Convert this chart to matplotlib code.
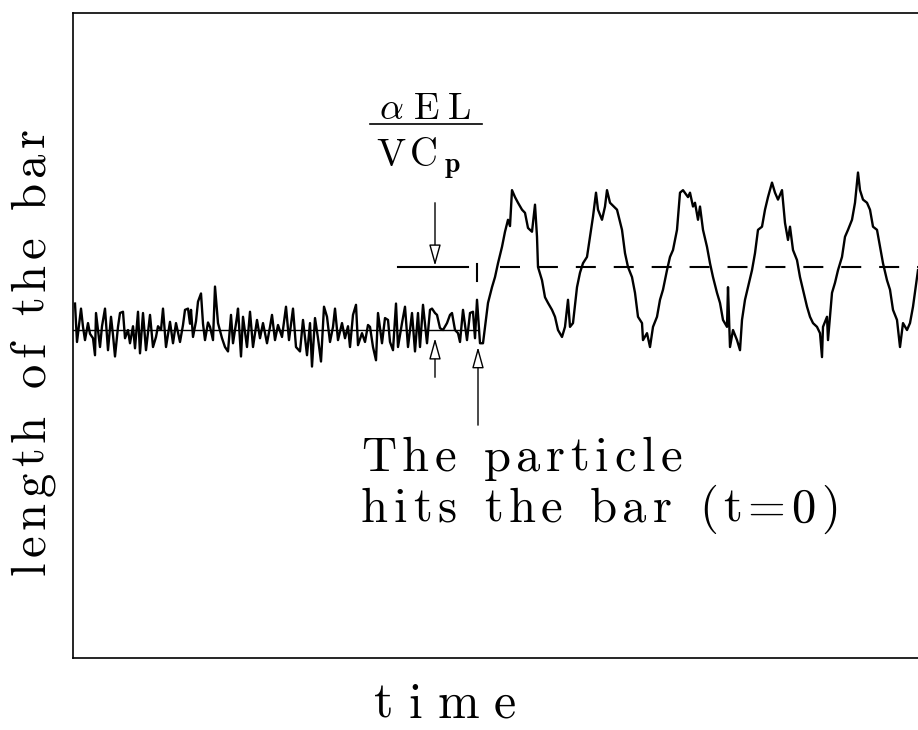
import numpy as np
import matplotlib
matplotlib.use("Agg")
import matplotlib.pyplot as plt

plt.rcParams["mathtext.fontset"] = "cm"

# ── Bar length trace (time in samples from the hit, length in % of aEL/VCp) ──
t_before = [-403, -401, -399, -397, -395, -393, -390, -388, -385, -383, -382, -378,
            -376, -373, -370, -367, -365, -363, -360, -358, -355, -353, -350, -348,
            -345, -343, -340, -338, -335, -332, -328, -325, -322, -320, -317, -315,
            -312, -308, -305, -302, -298, -295, -293, -290, -288, -287, -285, -282,
            -280, -277, -275, -273, -270, -268, -265, -263, -260, -256, -253, -250,
            -247, -245, -241, -240, -237, -235, -231, -228, -225, -221, -218, -215,
            -211, -208, -206, -203, -200, -196, -192, -189, -185, -182, -178, -175,
            -171, -168, -166, -163, -160, -157, -154, -151, -148, -145, -143, -140,
            -136, -133, -130, -128, -125, -122, -120, -116, -113, -110, -108, -105,
            -102, -100, -96, -93, -90, -88, -85, -82, -80, -76, -73, -70, -66, -63,
            -60, -58, -55, -51, -48, -46, -43, -41, -38, -35, -31, -28, -26, -23,
            -20, -18, -15, -11, -8, -5, -3, -1, 2, 5]
l_before = [42, -19, 8, 34, 5, -16, 11, -6, -13, -40, 27, -27,
            6, 34, -32, 21, -8, -42, 5, 27, 29, -13, 0, -21,
            6, -29, 29, -37, 27, -32, 24, -27, -11, 6, 0, 34,
            -27, 13, -21, 11, -19, 8, 32, 34, 10, 32, -11, 14,
            45, 58, 10, -16, 12, 5, -16, 69, 11, -13, -27, -34,
            24, -21, 21, 34, -42, 21, -27, 29, -27, 16, -13, 11,
            -21, 5, 24, -16, 8, -11, 37, -16, 34, -27, -34, 16,
            -40, 11, -58, 19, -13, -50, 37, 21, -19, 5, 34, -16,
            11, -13, 6, -27, 24, 40, -24, -5, -19, 8, 5, -27,
            -48, 27, -21, 19, 16, -19, -32, 42, -27, 11, 37, -27, 27, -34,
            27, -27, 40, -21, 32, 34, 27, 24, 3, 0, 11, 24, 27, 0,
            -5, -19, 32, -16, 27, 29, -13, 48, -21, -21]

t_after = [7, 10, 14, 17, 20, 24, 27, 30, 32, 34, 37, 40, 44, 47, 50, 54, 57, 59,
           60, 64, 67, 70, 74, 77, 80, 84, 87, 90, 92, 95, 99, 102, 105, 109, 112,
           115, 118, 120, 124, 127, 129, 132, 139, 144, 147, 150, 154, 157, 160, 164,
           165, 169, 172, 175, 179, 182, 185, 189, 192, 195, 199, 202, 205, 210, 212,
           215, 217, 220, 222, 225, 229, 232, 235, 239, 242, 245, 249, 250, 252, 255,
           259, 262, 264, 267, 270, 274, 277, 280, 284, 287, 290, 294, 297, 300, 304,
           307, 310, 312, 315, 319, 322, 325, 329, 332, 335, 339, 342, 344, 345, 349,
           350, 354, 357, 360, 364, 367, 370, 374, 377, 380, 382, 385, 389, 392, 395,
           399, 402, 405, 409, 412, 415, 419, 422, 425, 429, 432, 435, 440]
l_after = [5, 43, 68, 84, 106, 132, 156, 175, 165, 222, 211, 202, 191, 186, 162, 156, 199, 148,
           100, 79, 52, 43, 32, 21, 0, -11, 5, 48, 5, 11, 68, 91, 106, 116, 148,
           180, 218, 191, 175, 196, 222, 202, 191, 159, 122, 100, 84, 59, 21, 11,
           -16, -5, -27, 5, 21, 48, 64, 95, 116, 127, 159, 218, 222, 211, 218,
           196, 202, 175, 196, 159, 132, 106, 84, 59, 43, 16, 5, 68, -27, 0,
           -16, -32, 16, 48, 68, 95, 122, 159, 164, 191, 211, 234, 218, 207, 222,
           170, 143, 164, 127, 111, 84, 64, 37, 21, 11, 5, -5, -43, 5, 21,
           -16, 59, 75, 95, 116, 148, 159, 175, 202, 250, 222, 207, 202, 191, 164,
           159, 132, 106, 79, 64, 32, 16, -27, 11, 0, 11, 37, 95]

step_level = 100  # alpha*E*L / (V*Cp)

W, H = 918, 730
fig = plt.figure(figsize=(W / 100, H / 100), dpi=100)
ax = fig.add_axes([73 / W, 72 / H, 1 - 73 / W, 645 / H])

ax.plot(t_before + t_after, l_before + l_after, color="black", lw=1.7)
ax.plot([-405, 0], [0, 0], color="black", lw=1.0)

# step level: solid marker, small tick at t=0, dashed afterwards
ax.plot([-80, -10], [step_level, step_level], color="black", lw=1.5)
ax.plot([-1, -1], [step_level + 5, step_level - 22], color="black", lw=1.5)
ax.plot([22, 440], [step_level, step_level], color="black", lw=1.5,
        dashes=(9.6, 8.6))

hollow = dict(arrowstyle="-|>,head_length=1.3,head_width=0.36", fc="white",
              ec="black", lw=1.0, shrinkA=0, shrinkB=0, mutation_scale=10)
ax.annotate("", xy=(-43, step_level + 2), xytext=(-43, 202), arrowprops=hollow)
ax.annotate("", xy=(-43, -13), xytext=(-43, -75), arrowprops=hollow)
ax.annotate("", xy=(0, -27), xytext=(0, -151), arrowprops=hollow)

ax.set_xlim(-405, 440)
ax.set_ylim(-520.6, 503.2)
ax.set_xticks([])
ax.set_yticks([])
ax.spines["right"].set_visible(False)
for s in ("left", "top", "bottom"):
    ax.spines[s].set_linewidth(1.2)

# letter-spaced Computer Modern text (advance widths in em, cmr10)
CMR_W = {"a": .5, "b": .556, "c": .444, "e": .444, "f": .306, "g": .5, "h": .556,
         "i": .278, "l": .278, "m": .833, "n": .556, "o": .5, "p": .556, "r": .392,
         "s": .394, "t": .389, "T": .722, "(": .389, ")": .389, "=": .778, "0": .5,
         " ": .333}

def spaced(x, y, s, size, track=0.115, rotation=0):
    """x, y: start of the baseline in figure pixels (y from top)."""
    em = size * 100 / 72
    pos = 0.0
    for ch in s:
        if ch != " ":
            if rotation == 0:
                fx, fy = (x + pos) / W, 1 - y / H
            else:
                fx, fy = x / W, 1 - (y - pos) / H
            fig.text(fx, fy, ch, family="cmr10", fontsize=size, rotation=rotation,
                     rotation_mode="anchor", ha="left", va="baseline", color="black")
        pos += (CMR_W[ch] + track) * em

spaced(361, 471, "The particle", 35)
spaced(361, 522, "hits the bar (t=0)", 35)
spaced(374, 718, "time", 36, track=0.3)
spaced(44, 575, "length of the bar", 35, rotation=90)

def glyph(cx, y, s, size):
    fig.text(cx / W, 1 - y / H, s, fontsize=size, ha="center", va="baseline",
             color="black")

glyph(391, 119, r"$\alpha$", 27)
glyph(426, 119, r"$\mathrm{E}$", 27)
glyph(459, 119, r"$\mathrm{L}$", 27)
glyph(391, 166, r"$\mathrm{V}$", 28)
glyph(423, 166, r"$\mathrm{C}$", 28)
glyph(452, 172, r"$\mathbf{p}$", 20)
fig.add_artist(plt.Line2D([370 / W, 482 / W], [1 - 124 / H, 1 - 124 / H],
                          color="black", lw=1.2))

fig.savefig("out.png", dpi=100)
